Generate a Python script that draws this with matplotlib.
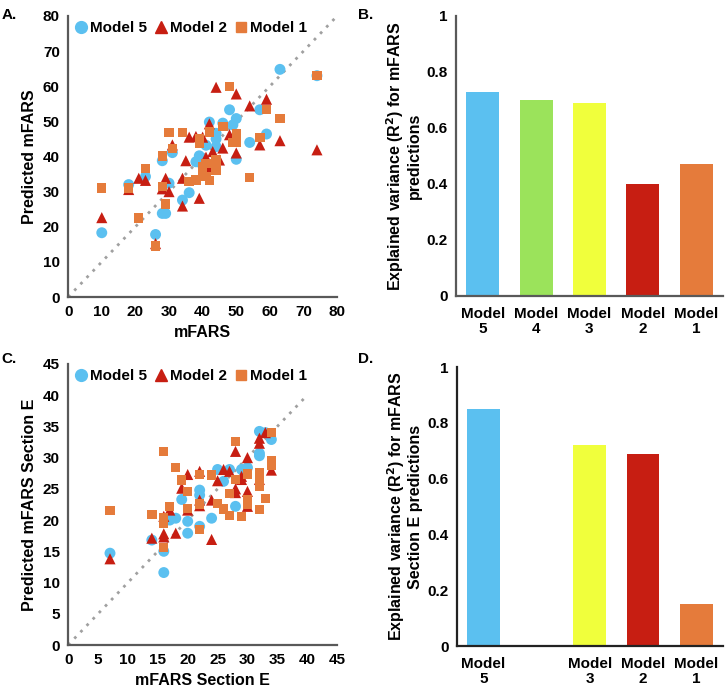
import numpy as np
import matplotlib
matplotlib.use("Agg")
import matplotlib.pyplot as plt
from matplotlib.lines import Line2D

plt.rcParams['font.family'] = ['Liberation Sans', 'DejaVu Sans']
plt.rcParams['font.weight'] = 'bold'

# ---------------- data ----------------
series_names = ["Model 5", "Model 2", "Model 1"]

a_m5_x = [10, 18, 23, 26, 28, 28, 29, 30, 31, 34, 36, 38, 39, 40, 41, 42, 44, 44, 44, 46, 48, 49, 50, 50, 54, 57, 59, 63, 74]
a_m5_y = [18.3, 32, 34.3, 17.8, 38.8, 23.8, 23.8, 32.4, 41.1, 27.6, 29.7, 38.5, 40.2, 37.5, 43.2, 49.8, 46.6, 42.8, 45, 49.5, 53.3, 49, 50.8, 39.2, 44, 53.3, 46.4, 64.8, 63]

a_m2_x = [10, 18, 21, 23, 26, 28, 29, 30, 31, 34, 34, 35, 36, 38, 40, 39, 41, 42, 42, 43, 44, 45, 46, 48, 50, 50, 54, 57, 59, 63, 74]
a_m2_y = [22.6, 30.6, 33.8, 33.2, 15.2, 30.8, 33.8, 30, 43.3, 33.8, 25.9, 38.8, 45.5, 45.7, 45.5, 28.1, 39.8, 49.3, 37, 41.4, 59.7, 39, 42.4, 46.2, 57.8, 41, 54.4, 43.3, 56.3, 44.5, 41.9]

a_m1_x = [10, 18, 21, 23, 26, 28, 28, 29, 30, 31, 34, 36, 38, 39, 39, 40, 40, 41, 41, 42, 42, 44, 44, 44, 46, 48, 49, 50, 50, 54, 57, 59, 63, 74]
a_m1_y = [31, 31, 22.5, 36.6, 14.5, 40.2, 31.4, 26.5, 46.8, 42.2, 46.8, 32.9, 33.3, 45, 43.8, 36.2, 37, 38, 34.3, 33.1, 47, 39, 37.6, 36.2, 48.5, 60, 44, 44, 46.6, 34.1, 45.4, 53.3, 50.8, 63]

c_m5_x = [7, 14, 16, 16, 17, 18, 19, 20, 20, 22, 22, 22, 24, 25, 26, 27, 28, 29, 30, 32, 32, 32, 34, 33]
c_m5_y = [14.7, 16.8, 15, 11.6, 20, 20.3, 23.3, 19.8, 17.9, 24.8, 24, 19, 20.3, 28.1, 26.2, 28.1, 22.2, 28.1, 28.4, 34.2, 30.7, 30.3, 32.9, 34]

c_m2_x = [7, 14, 16, 16, 16, 17, 18, 19, 20, 20, 22, 22, 22, 24, 24, 25, 26, 27, 28, 28, 28, 29, 29, 30, 30, 30, 32, 32, 32, 33, 34]
c_m2_y = [13.8, 17.1, 20.6, 17.8, 17.3, 21.6, 17.9, 25.1, 27.3, 21.6, 27.8, 23.2, 22.3, 16.9, 23.2, 26.3, 28.1, 27.8, 31, 25, 24.4, 27, 26.5, 30, 24.6, 22.2, 33.1, 32.3, 26.5, 34, 28]

c_m1_x = [7, 14, 16, 16, 16, 16, 17, 18, 19, 20, 20, 22, 22, 22, 24, 25, 26, 27, 27, 28, 28, 29, 30, 30, 30, 32, 32, 32, 32, 32, 33, 34, 34, 34]
c_m1_y = [21.5, 20.9, 31, 20.3, 19.5, 15.6, 22.2, 28.4, 26.4, 24.6, 21.9, 27.3, 22.6, 18.5, 27.2, 22.7, 21.8, 24.3, 20.7, 32.6, 26.5, 20.6, 27.4, 23.2, 22.6, 27.6, 26.7, 25.9, 25.4, 21.7, 23.5, 29.5, 28.7, 34]

b_labels = ["Model\n5", "Model\n4", "Model\n3", "Model\n2", "Model\n1"]
b_values = [0.73, 0.70, 0.69, 0.40, 0.47]

d_labels = ["Model\n5", "", "Model\n3", "Model\n2", "Model\n1"]
d_values = [0.85, np.nan, 0.72, 0.69, 0.15]

# ---------------- styles ----------------
BLUE = "#5BC0F0"
GREEN = "#9BE35B"
YELLOW = "#F0FF3C"
RED = "#C71E12"
ORANGE = "#E57B3B"
bar_colors = [BLUE, GREEN, YELLOW, RED, ORANGE]
SPINE = "#595959"
TICKFS = 11
LABFS = 11.5

fig = plt.figure(figsize=(7.25, 6.94), dpi=100)

def style_axes(ax, spine_color=SPINE):
    for s in ['top', 'right']:
        ax.spines[s].set_visible(False)
    for s in ['left', 'bottom']:
        ax.spines[s].set_color(spine_color)
        ax.spines[s].set_linewidth(1.6)
    ax.tick_params(length=0, labelsize=TICKFS, pad=6)
    for t in ax.get_xticklabels() + ax.get_yticklabels():
        t.set_fontweight('bold')

def scatter_panel(rect, xs, ys, lim, step, diag_end, xlabel, ylabel):
    ax = fig.add_axes(rect)
    cols = [BLUE, RED, ORANGE]
    marks = ['o', '^', 's']
    sizes = [62, 64, 46]
    ax.plot([0, diag_end], [0, diag_end], linestyle=(0, (1, 2.2)), color="#A0A0A0", lw=2, zorder=1)
    for x, y, c, m, s in zip(xs, ys, cols, marks, sizes):
        ax.scatter(x, y, c=c, marker=m, s=s, edgecolors='none', zorder=2)
    ax.set_xlim(0, lim)
    ax.set_ylim(0, lim)
    ax.set_xticks(np.arange(0, lim + 1, step))
    ax.set_yticks(np.arange(0, lim + 1, step))
    ax.set_xlabel(xlabel, fontsize=LABFS, fontweight='bold', labelpad=4)
    ax.set_ylabel(ylabel, fontsize=LABFS, fontweight='bold', labelpad=4)
    style_axes(ax)
    handles = [Line2D([], [], marker=m, color=c, linestyle='none', markersize=8.5 if m != 's' else 7.5)
               for c, m in zip(cols, marks)]
    ax.legend(handles, series_names, loc='upper left', bbox_to_anchor=(-0.02, 1.03), ncol=3,
              frameon=False, handlelength=0.6, handletextpad=0.3, columnspacing=0.6,
              prop={'weight': 'bold', 'size': 11})
    return ax

def bar_panel(rect, labels, values, ylabel, spine_color):
    ax = fig.add_axes(rect)
    x = np.arange(len(labels))
    ax.bar(x, values, width=0.62, color=bar_colors)
    ax.set_xlim(-0.5, len(labels) - 0.5)
    ax.set_ylim(0, 1)
    ax.set_yticks([0, 0.2, 0.4, 0.6, 0.8, 1.0])
    ax.set_yticklabels(["0", "0.2", "0.4", "0.6", "0.8", "1"])
    ax.set_xticks(x)
    ax.set_xticklabels(labels, linespacing=1.05)
    ax.set_ylabel(ylabel, fontsize=LABFS, fontweight='bold', labelpad=3, linespacing=1.1)
    style_axes(ax, spine_color)
    ax.tick_params(axis='x', pad=8)
    return ax

scatter_panel([0.094, 0.572, 0.371, 0.405], [a_m5_x, a_m2_x, a_m1_x], [a_m5_y, a_m2_y, a_m1_y],
              80, 10, 80, "mFARS", "Predicted mFARS")
scatter_panel([0.094, 0.0706, 0.371, 0.405], [c_m5_x, c_m2_x, c_m1_x], [c_m5_y, c_m2_y, c_m1_y],
              45, 5, 40, "mFARS Section E", "Predicted mFARS Section E")

bar_panel([0.629, 0.5735, 0.368, 0.4035], b_labels, b_values,
          "Explained variance (R$^\\mathbf{2}$) for mFARS\npredictions", SPINE)
bar_panel([0.630, 0.069, 0.367, 0.402], d_labels, d_values,
          "Explained variance (R$^\\mathbf{2}$) for mFARS\nSection E predictions", "#222222")

for lbl, x, y in [("A.", 0.002, 0.988), ("B.", 0.494, 0.988), ("C.", 0.002, 0.493), ("D.", 0.494, 0.493)]:
    fig.text(x, y, lbl, fontsize=11, fontweight='bold', va='top', ha='left')

fig.savefig("out.png", dpi=100)
